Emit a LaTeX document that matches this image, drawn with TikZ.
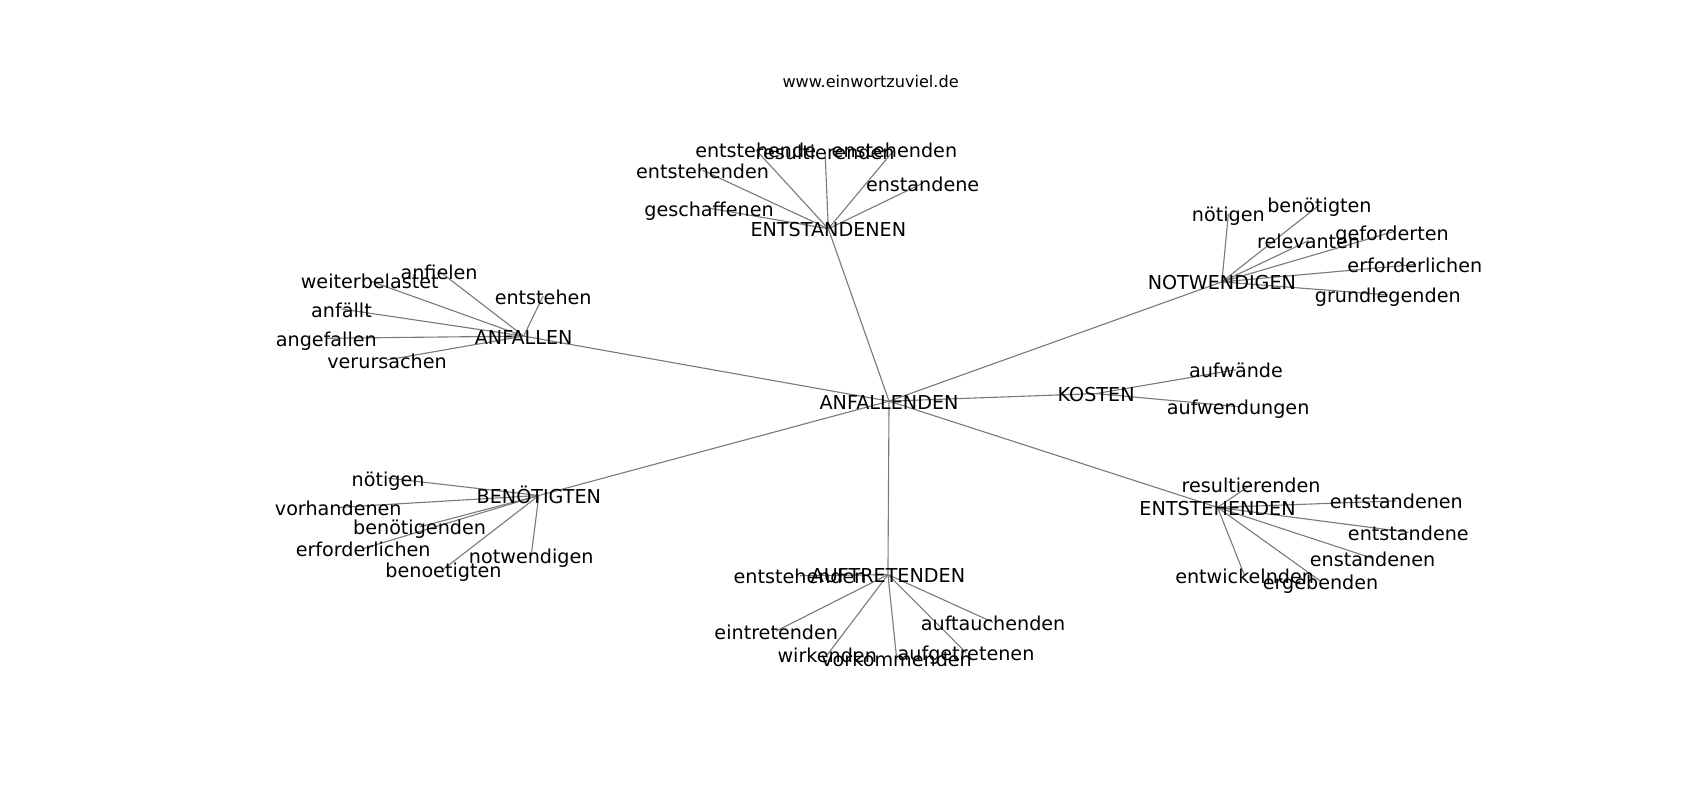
\documentclass[tikz,border=0pt]{standalone}
\usepackage{fontspec}
\setmainfont{DejaVu Sans}
\usetikzlibrary{backgrounds}
\definecolor{linkgray}{HTML}{7A7A7A}
\tikzset{
	word/.style={
		inner sep=0pt,
		text height=13pt,
		text depth=1.4pt,
		font=\fontsize{13.8}{16}\selectfont
	},
	title/.style={
		inner sep=0pt,
		font=\fontsize{11.6}{14}\selectfont
	},
	link/.style={
		linkgray,
		line width=0.8pt
	}
}

\begin{document}
\begin{tikzpicture}[x=0.7806pt, y=-0.7806pt]
	\useasboundingbox (0,0) rectangle (1568,738);
	\node[title] (web) at (803,75) {www.einwortzuviel.de};
	% Mitte und Nachbarn
	\node[word] (anfallenden) at (820,370) {ANFALLENDEN};
	\node[word] (entstandenen) at (764,211) {ENTSTANDENEN};
	\node[word] (notwendigen) at (1127,260) {NOTWENDIGEN};
	\node[word] (kosten) at (1011,363) {KOSTEN};
	\node[word] (entstehenden) at (1123,468) {ENTSTEHENDEN};
	\node[word] (auftretenden) at (819,530) {AUFTRETENDEN};
	\node[word] (benoetigten) at (497,457) {BENÖTIGTEN};
	\node[word] (anfallen) at (483,310) {ANFALLEN};
	\begin{scope}[on background layer]
		\foreach \hub in {entstandenen,notwendigen,kosten,entstehenden,auftretenden,benoetigten,anfallen}
			\draw[link] (anfallenden.center) -- (\hub.center);
	\end{scope}
	% ENTSTANDENEN
	\foreach \t/\x/\y [count=\i] in {entstehende/697/138, resultierenden/761/140, enstehenden/825/138, entstehenden/648/157, enstandene/851/169, geschaffenen/654/192}{
		\node[word] (entstandenen-\i) at (\x,\y) {\t};
		\begin{scope}[on background layer]
			\draw[link] (entstandenen.center) -- (entstandenen-\i.center);
		\end{scope}
	}
	% NOTWENDIGEN
	\foreach \t/\x/\y [count=\i] in {nötigen/1133/197, benötigten/1217/189, relevanten/1207/222, geforderten/1284/214, erforderlichen/1305/244, grundlegenden/1280/272}{
		\node[word] (notwendigen-\i) at (\x,\y) {\t};
		\begin{scope}[on background layer]
			\draw[link] (notwendigen.center) -- (notwendigen-\i.center);
		\end{scope}
	}
	% KOSTEN
	\foreach \t/\x/\y [count=\i] in {aufwände/1140/341, aufwendungen/1142/375}{
		\node[word] (kosten-\i) at (\x,\y) {\t};
		\begin{scope}[on background layer]
			\draw[link] (kosten.center) -- (kosten-\i.center);
		\end{scope}
	}
	% ENTSTEHENDEN
	\foreach \t/\x/\y [count=\i] in {resultierenden/1154/447, entstandenen/1288/462, entstandene/1299/491, enstandenen/1266/515, entwickelnden/1148/531, ergebenden/1218/536}{
		\node[word] (entstehenden-\i) at (\x,\y) {\t};
		\begin{scope}[on background layer]
			\draw[link] (entstehenden.center) -- (entstehenden-\i.center);
		\end{scope}
	}
	% AUFTRETENDEN
	\foreach \t/\x/\y [count=\i] in {entstehenden/738/531, eintretenden/716/582, wirkenden/763/604, vorkommenden/827/607, aufgetretenen/891/602, auftauchenden/916/574}{
		\node[word] (auftretenden-\i) at (\x,\y) {\t};
		\begin{scope}[on background layer]
			\draw[link] (auftretenden.center) -- (auftretenden-\i.center);
		\end{scope}
	}
	% BENÖTIGTEN
	\foreach \t/\x/\y [count=\i] in {nötigen/358/441, vorhandenen/312/468, benötigenden/387/486, erforderlichen/335/506, notwendigen/490/512, benoetigten/409/525}{
		\node[word] (benoetigten-\i) at (\x,\y) {\t};
		\begin{scope}[on background layer]
			\draw[link] (benoetigten.center) -- (benoetigten-\i.center);
		\end{scope}
	}
	% ANFALLEN
	\foreach \t/\x/\y [count=\i] in {anfielen/405/250, weiterbelastet/341/259, entstehen/501/273, anfällt/315/285, angefallen/301/312, verursachen/357/332}{
		\node[word] (anfallen-\i) at (\x,\y) {\t};
		\begin{scope}[on background layer]
			\draw[link] (anfallen.center) -- (anfallen-\i.center);
		\end{scope}
	}
\end{tikzpicture}
\end{document}
